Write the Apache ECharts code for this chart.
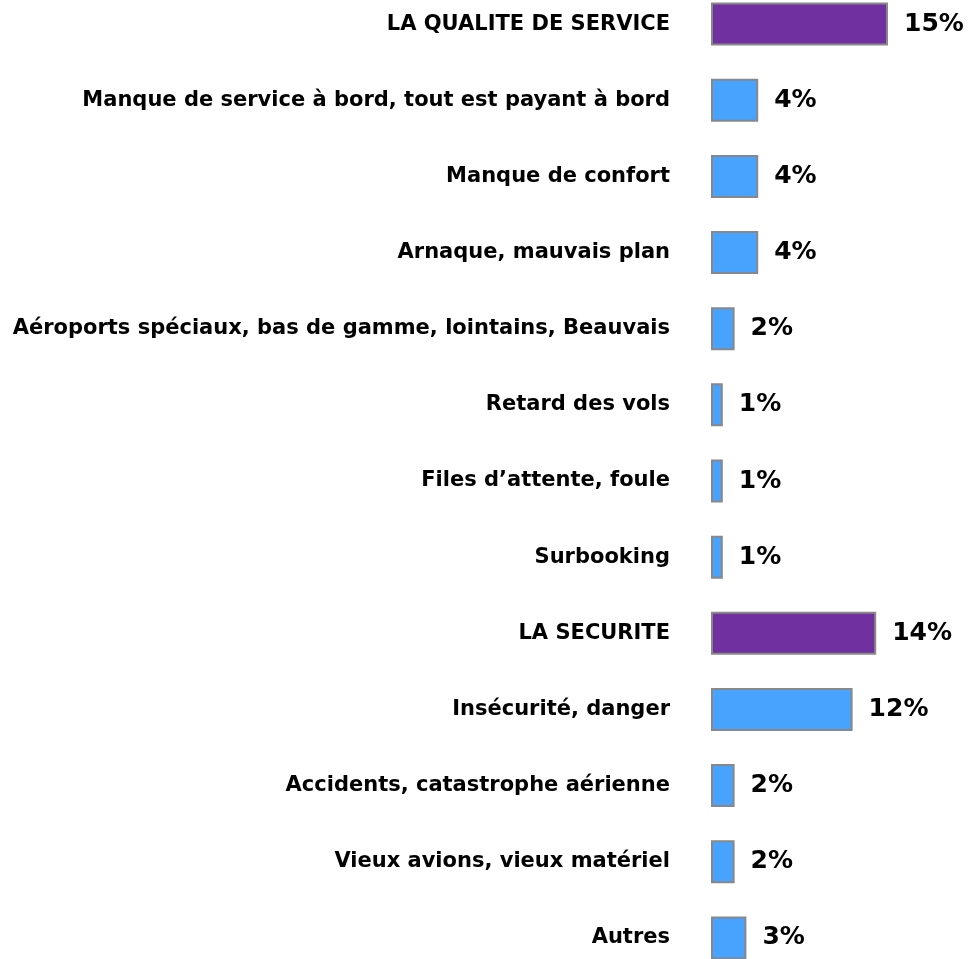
<!DOCTYPE html>
<html>
<head>
  <meta charset="utf-8">
  <title>chart</title>
  <script src="https://cdn.jsdelivr.net/npm/echarts@6/dist/echarts.min.js"></script>
  <style>
    html, body { margin: 0; padding: 0; background: #fff; }
  </style>
</head>
<body>
  <div id="main" style="width:971px;height:959px;"></div>
  <script type="text/javascript">
    var categories = [
      'LA QUALITE DE SERVICE',
      'Manque de service à bord, tout est payant à bord',
      'Manque de confort',
      'Arnaque, mauvais plan',
      'Aéroports spéciaux, bas de gamme, lointains, Beauvais',
      'Retard des vols',
      'Files d\u2019attente, foule',
      'Surbooking',
      'LA SECURITE',
      'Insécurité, danger',
      'Accidents, catastrophe aérienne',
      'Vieux avions, vieux matériel',
      'Autres'
    ];
    var values = [15, 4, 4, 4, 2, 1, 1, 1, 14, 12, 2, 2, 3];
    // rubriques principales (barres violettes)
    var headers = ['LA QUALITE DE SERVICE', 'LA SECURITE'];

    var myChart = echarts.init(document.getElementById('main'));

    var option = {
      animation: false,
      grid: { left: 711, right: 24, top: -14, height: 990, outerBoundsMode: 'none' },
      xAxis: { type: 'value', min: 0, max: 20, show: false },
      yAxis: {
        type: 'category',
        data: categories,
        inverse: true,
        axisLine: { show: false },
        axisTick: { show: false },
        axisLabel: {
          margin: 41,
          color: '#000',
          fontFamily: 'DejaVu Sans',
          fontWeight: 'bold',
          fontSize: 21
        }
      },
      series: [{
        type: 'bar',
        barWidth: 43,
        data: values.map(function (v, i) {
          var isHead = headers.indexOf(categories[i]) >= 0;
          return {
            value: v,
            itemStyle: { color: isHead ? '#7030A0' : '#47A3FF' }
          };
        }),
        itemStyle: { borderColor: '#888', borderWidth: 2 },
        label: {
          show: true,
          position: 'right',
          distance: 16,
          formatter: '{c}%',
          color: '#000',
          fontFamily: 'DejaVu Sans',
          fontWeight: 'bold',
          fontSize: 25
        }
      }]
    };

    myChart.setOption(option);
  </script>
</body>
</html>
